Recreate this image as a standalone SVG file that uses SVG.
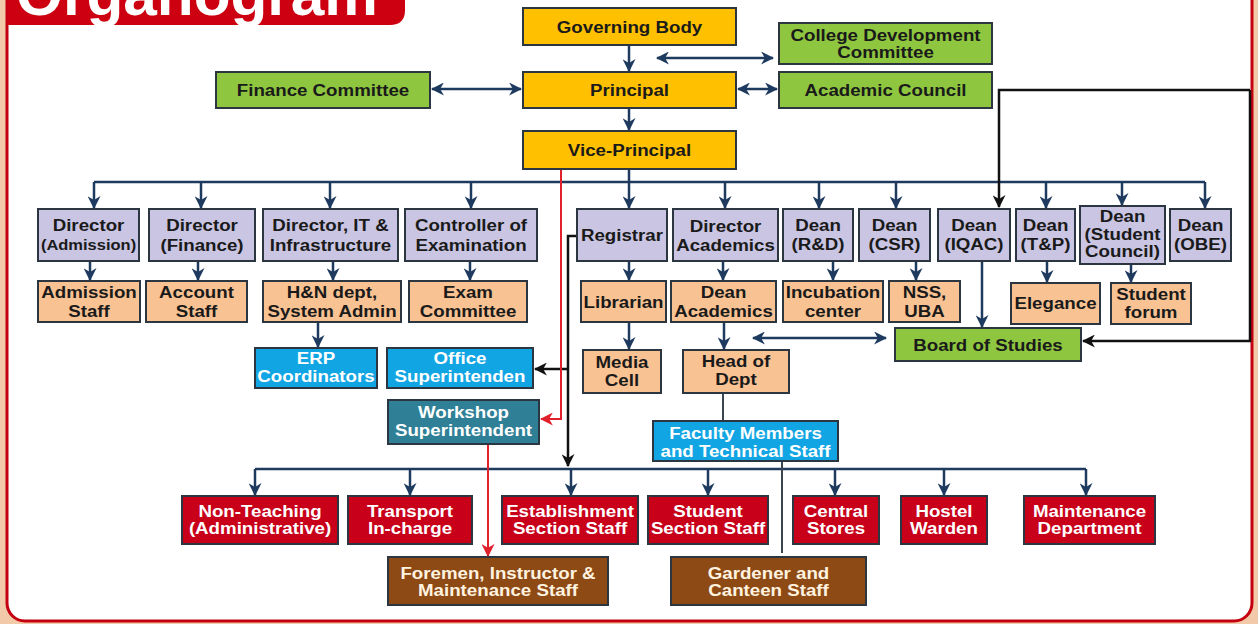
<svg xmlns="http://www.w3.org/2000/svg" width="1258" height="624" viewBox="0 0 1258 624">
<defs>
<style>
.bx{stroke:#2b3640;stroke-width:2}
.gold{fill:#ffc000}.green{fill:#8ec63f}.lav{fill:#c9c5e2}.peach{fill:#f9c293}
.blue{fill:#12a5e3}.teal{fill:#2f7f97}.red{fill:#c8001a}.brown{fill:#8e4a14}
text{font-family:"Liberation Sans",Arial,sans-serif;font-weight:bold;font-size:17px;text-anchor:middle;fill:#1a1a1a}
.w{fill:#ffffff}.c{fill:#fff3e0}.s15{font-size:15px}
.nv{fill:none;stroke:#1f3a5f;stroke-width:2.5}
.bk{fill:none;stroke:#111111;stroke-width:2.5}
.rd{fill:none;stroke:#e0202a;stroke-width:2}
.ln{fill:none;stroke:#3a4550;stroke-width:2}
</style>
<marker id="an" viewBox="0 0 12 12" refX="11" refY="6" markerWidth="13" markerHeight="13" markerUnits="userSpaceOnUse" orient="auto-start-reverse"><path d="M0,0 L12,6 L0,12 L3.5,6 Z" fill="#1f3a5f"/></marker>
<marker id="ab" viewBox="0 0 12 12" refX="11" refY="6" markerWidth="13" markerHeight="13" markerUnits="userSpaceOnUse" orient="auto-start-reverse"><path d="M0,0 L12,6 L0,12 L3.5,6 Z" fill="#111111"/></marker>
<marker id="ar" viewBox="0 0 12 12" refX="11" refY="6" markerWidth="13" markerHeight="13" markerUnits="userSpaceOnUse" orient="auto-start-reverse"><path d="M0,0 L12,6 L0,12 L3.5,6 Z" fill="#e0202a"/></marker>
<clipPath id="tabclip"><path d="M7,0 H405 V10 Q405,25 390,25 H7 Z"/></clipPath>
</defs>

<rect x="0" y="0" width="1258" height="624" fill="#f2c9a9"/>
<rect x="7" y="-30" width="1245" height="651" rx="18" fill="#ffffff" stroke="#c40010" stroke-width="3"/>

<g id="title">
<path d="M7,0 H405 V10 Q405,25 390,25 H7 Z" fill="#cc0010"/>
<g clip-path="url(#tabclip)"><text x="197" y="15" style="font-size:60px" class="w" textLength="362" lengthAdjust="spacingAndGlyphs">Organogram</text></g>
</g>

<g id="connectors">
<path class="nv" d="M629,45 V71" marker-end="url(#an)"/>
<path class="nv" d="M657,58 H773" marker-start="url(#an)" marker-end="url(#an)"/>
<path class="nv" d="M432,89 H521" marker-start="url(#an)" marker-end="url(#an)"/>
<path class="nv" d="M738,89 H777" marker-start="url(#an)" marker-end="url(#an)"/>
<path class="nv" d="M629,108 V130" marker-end="url(#an)"/>
<path class="nv" d="M629,169 V182 M94,182 H1205"/>
<path class="nv" d="M94,182 V208" marker-end="url(#an)"/>
<path class="nv" d="M201,182 V208" marker-end="url(#an)"/>
<path class="nv" d="M330,182 V208" marker-end="url(#an)"/>
<path class="nv" d="M471,182 V208" marker-end="url(#an)"/>
<path class="nv" d="M629,182 V208" marker-end="url(#an)"/>
<path class="nv" d="M725,182 V208" marker-end="url(#an)"/>
<path class="nv" d="M819,182 V208" marker-end="url(#an)"/>
<path class="nv" d="M896,182 V208" marker-end="url(#an)"/>
<path class="nv" d="M1046,182 V208" marker-end="url(#an)"/>
<path class="nv" d="M1122,182 V205" marker-end="url(#an)"/>
<path class="nv" d="M1205,182 V208" marker-end="url(#an)"/>
<path class="nv" d="M90,261 V280" marker-end="url(#an)"/>
<path class="nv" d="M198,261 V280" marker-end="url(#an)"/>
<path class="nv" d="M333,261 V280" marker-end="url(#an)"/>
<path class="nv" d="M470,261 V280" marker-end="url(#an)"/>
<path class="nv" d="M629,261 V280" marker-end="url(#an)"/>
<path class="nv" d="M723,261 V280" marker-end="url(#an)"/>
<path class="nv" d="M833,261 V280" marker-end="url(#an)"/>
<path class="nv" d="M916,261 V280" marker-end="url(#an)"/>
<path class="nv" d="M1047,261 V282" marker-end="url(#an)"/>
<path class="nv" d="M1131,264 V282" marker-end="url(#an)"/>
<path class="nv" d="M318,322 V347" marker-end="url(#an)"/>
<path class="nv" d="M629,322 V349" marker-end="url(#an)"/>
<path class="nv" d="M724,322 V349" marker-end="url(#an)"/>
<path class="nv" d="M753,338 H886" marker-start="url(#an)" marker-end="url(#an)"/>
<path class="nv" d="M982,261 V327" marker-end="url(#an)"/>
<path class="bk" d="M1250,90 H999 V207" marker-end="url(#ab)"/>
<path class="bk" d="M1250,90 V341 H1083" marker-end="url(#ab)"/>
<path class="bk" d="M577,236 H568 V466" marker-end="url(#ab)"/>
<path class="bk" d="M568,369 H535" marker-end="url(#ab)"/>
<path class="rd" d="M561,169 V419 H541" marker-end="url(#ar)"/>
<path class="ln" d="M723,393 V421"/>
<path class="nv" d="M255,469 H1086"/>
<path class="nv" d="M255,469 V495" marker-end="url(#an)"/>
<path class="nv" d="M410,469 V495" marker-end="url(#an)"/>
<path class="nv" d="M571,469 V495" marker-end="url(#an)"/>
<path class="nv" d="M708,469 V495" marker-end="url(#an)"/>
<path class="nv" d="M835,469 V495" marker-end="url(#an)"/>
<path class="nv" d="M944,469 V495" marker-end="url(#an)"/>
<path class="nv" d="M1086,469 V495" marker-end="url(#an)"/>
<path class="ln" d="M782,461 V553"/>
<path class="rd" d="M488,444 V556" marker-end="url(#ar)"/>
</g>

<g id="governing-body"><rect class="bx gold" x="523" y="8" width="213" height="37"/><g transform="matrix(1.1 0 0 1 629.5 0)"><text x="0" y="33">Governing Body</text></g></g>
<g id="cdc"><rect class="bx green" x="779" y="23" width="213" height="41"/><g transform="matrix(1.1 0 0 1 885.5 0)"><text x="0" y="41">College Development</text><text x="0" y="58">Committee</text></g></g>
<g id="principal"><rect class="bx gold" x="523" y="72" width="213" height="36"/><g transform="matrix(1.1 0 0 1 629.5 0)"><text x="0" y="96">Principal</text></g></g>
<g id="finance-committee"><rect class="bx green" x="216" y="72" width="214" height="36"/><g transform="matrix(1.1 0 0 1 323 0)"><text x="0" y="96">Finance Committee</text></g></g>
<g id="academic-council"><rect class="bx green" x="779" y="72" width="213" height="36"/><g transform="matrix(1.1 0 0 1 885.5 0)"><text x="0" y="96">Academic Council</text></g></g>
<g id="vice-principal"><rect class="bx gold" x="523" y="131" width="213" height="38"/><g transform="matrix(1.1 0 0 1 629.5 0)"><text x="0" y="156">Vice-Principal</text></g></g>

<g id="dir-admission"><rect class="bx lav" x="38" y="209" width="101" height="52"/><g transform="matrix(1.1 0 0 1 88.5 0)"><text x="0" y="231">Director</text><text x="0" y="250" class="s15">(Admission)</text></g></g>
<g id="dir-finance"><rect class="bx lav" x="149" y="209" width="106" height="52"/><g transform="matrix(1.1 0 0 1 202 0)"><text x="0" y="231">Director</text><text x="0" y="251">(Finance)</text></g></g>
<g id="dir-it"><rect class="bx lav" x="263" y="209" width="135" height="52"/><g transform="matrix(1.1 0 0 1 330.5 0)"><text x="0" y="231">Director, IT &amp;</text><text x="0" y="251">Infrastructure</text></g></g>
<g id="controller"><rect class="bx lav" x="405" y="209" width="132" height="52"/><g transform="matrix(1.1 0 0 1 471 0)"><text x="0" y="231">Controller of</text><text x="0" y="251">Examination</text></g></g>
<g id="registrar"><rect class="bx lav" x="577" y="209" width="90" height="52"/><g transform="matrix(1.1 0 0 1 622 0)"><text x="0" y="241">Registrar</text></g></g>
<g id="dir-academics"><rect class="bx lav" x="673" y="209" width="105" height="52"/><g transform="matrix(1.1 0 0 1 725.5 0)"><text x="0" y="232">Director</text><text x="0" y="251">Academics</text></g></g>
<g id="dean-rd"><rect class="bx lav" x="783" y="209" width="70" height="52"/><g transform="matrix(1.1 0 0 1 818 0)"><text x="0" y="231">Dean</text><text x="0" y="250">(R&amp;D)</text></g></g>
<g id="dean-csr"><rect class="bx lav" x="859" y="209" width="71" height="52"/><g transform="matrix(1.1 0 0 1 894.5 0)"><text x="0" y="231">Dean</text><text x="0" y="250">(CSR)</text></g></g>
<g id="dean-iqac"><rect class="bx lav" x="938" y="209" width="72" height="52"/><g transform="matrix(1.1 0 0 1 974 0)"><text x="0" y="231">Dean</text><text x="0" y="250">(IQAC)</text></g></g>
<g id="dean-tp"><rect class="bx lav" x="1016" y="209" width="59" height="52"/><g transform="matrix(1.1 0 0 1 1045.5 0)"><text x="0" y="231">Dean</text><text x="0" y="250">(T&amp;P)</text></g></g>
<g id="dean-sc"><rect class="bx lav" x="1080" y="206" width="85" height="58"/><g transform="matrix(1.1 0 0 1 1122.5 0)"><text x="0" y="222">Dean</text><text x="0" y="240">(Student</text><text x="0" y="257">Council)</text></g></g>
<g id="dean-obe"><rect class="bx lav" x="1170" y="209" width="61" height="52"/><g transform="matrix(1.1 0 0 1 1200.5 0)"><text x="0" y="231">Dean</text><text x="0" y="250">(OBE)</text></g></g>

<g id="admission-staff"><rect class="bx peach" x="38" y="281" width="102" height="41"/><g transform="matrix(1.1 0 0 1 89 0)"><text x="0" y="298">Admission</text><text x="0" y="317">Staff</text></g></g>
<g id="account-staff"><rect class="bx peach" x="146" y="281" width="101" height="41"/><g transform="matrix(1.1 0 0 1 196.5 0)"><text x="0" y="298">Account</text><text x="0" y="317">Staff</text></g></g>
<g id="hn-dept"><rect class="bx peach" x="263" y="281" width="138" height="41"/><g transform="matrix(1.1 0 0 1 332 0)"><text x="0" y="298">H&amp;N dept,</text><text x="0" y="317">System Admin</text></g></g>
<g id="exam-committee"><rect class="bx peach" x="409" y="281" width="118" height="41"/><g transform="matrix(1.1 0 0 1 468 0)"><text x="0" y="298">Exam</text><text x="0" y="317">Committee</text></g></g>
<g id="librarian"><rect class="bx peach" x="581" y="281" width="85" height="41"/><g transform="matrix(1.1 0 0 1 623.5 0)"><text x="0" y="308">Librarian</text></g></g>
<g id="dean-academics"><rect class="bx peach" x="671" y="281" width="105" height="41"/><g transform="matrix(1.1 0 0 1 723.5 0)"><text x="0" y="298">Dean</text><text x="0" y="317">Academics</text></g></g>
<g id="incubation"><rect class="bx peach" x="783" y="281" width="100" height="41"/><g transform="matrix(1.1 0 0 1 833 0)"><text x="0" y="298">Incubation</text><text x="0" y="317">center</text></g></g>
<g id="nss"><rect class="bx peach" x="889" y="281" width="71" height="41"/><g transform="matrix(1.1 0 0 1 924.5 0)"><text x="0" y="298">NSS,</text><text x="0" y="317">UBA</text></g></g>
<g id="elegance"><rect class="bx peach" x="1011" y="283" width="89" height="41"/><g transform="matrix(1.1 0 0 1 1055.5 0)"><text x="0" y="309">Elegance</text></g></g>
<g id="student-forum"><rect class="bx peach" x="1111" y="283" width="80" height="41"/><g transform="matrix(1.1 0 0 1 1151 0)"><text x="0" y="300">Student</text><text x="0" y="318">forum</text></g></g>

<g id="media-cell"><rect class="bx peach" x="583" y="350" width="78" height="43"/><g transform="matrix(1.1 0 0 1 622 0)"><text x="0" y="368">Media</text><text x="0" y="386">Cell</text></g></g>
<g id="head-of-dept"><rect class="bx peach" x="683" y="350" width="106" height="43"/><g transform="matrix(1.1 0 0 1 736 0)"><text x="0" y="367">Head of</text><text x="0" y="385">Dept</text></g></g>
<g id="board-of-studies"><rect class="bx green" x="895" y="328" width="186" height="33"/><g transform="matrix(1.1 0 0 1 988 0)"><text x="0" y="351">Board of Studies</text></g></g>
<g id="erp"><rect class="bx blue" x="255" y="348" width="122" height="40"/><g transform="matrix(1.1 0 0 1 316 0)"><text x="0" y="364" class="w">ERP</text><text x="0" y="382" class="w">Coordinators</text></g></g>
<g id="office-supt"><rect class="bx blue" x="387" y="348" width="146" height="40"/><g transform="matrix(1.1 0 0 1 460 0)"><text x="0" y="364" class="w">Office</text><text x="0" y="382" class="w">Superintenden</text></g></g>
<g id="workshop-supt"><rect class="bx teal" x="388" y="400" width="151" height="44"/><g transform="matrix(1.1 0 0 1 463.5 0)"><text x="0" y="418" class="w">Workshop</text><text x="0" y="436" class="w">Superintendent</text></g></g>
<g id="faculty"><rect class="bx blue" x="653" y="421" width="185" height="40"/><g transform="matrix(1.1 0 0 1 745.5 0)"><text x="0" y="439" class="w">Faculty Members</text><text x="0" y="457" class="w">and Technical Staff</text></g></g>

<g id="non-teaching"><rect class="bx red" x="182" y="496" width="156" height="48"/><g transform="matrix(1.1 0 0 1 260 0)"><text x="0" y="517" class="w">Non-Teaching</text><text x="0" y="534" class="w">(Administrative)</text></g></g>
<g id="transport"><rect class="bx red" x="348" y="496" width="124" height="48"/><g transform="matrix(1.1 0 0 1 410 0)"><text x="0" y="517" class="w">Transport</text><text x="0" y="534" class="w">In-charge</text></g></g>
<g id="establishment"><rect class="bx red" x="502" y="496" width="136" height="48"/><g transform="matrix(1.1 0 0 1 570 0)"><text x="0" y="517" class="w">Establishment</text><text x="0" y="534" class="w">Section Staff</text></g></g>
<g id="student-section"><rect class="bx red" x="648" y="496" width="120" height="48"/><g transform="matrix(1.1 0 0 1 708 0)"><text x="0" y="517" class="w">Student</text><text x="0" y="534" class="w">Section Staff</text></g></g>
<g id="central-stores"><rect class="bx red" x="793" y="496" width="86" height="48"/><g transform="matrix(1.1 0 0 1 836 0)"><text x="0" y="517" class="w">Central</text><text x="0" y="534" class="w">Stores</text></g></g>
<g id="hostel-warden"><rect class="bx red" x="901" y="496" width="86" height="48"/><g transform="matrix(1.1 0 0 1 944 0)"><text x="0" y="517" class="w">Hostel</text><text x="0" y="534" class="w">Warden</text></g></g>
<g id="maintenance"><rect class="bx red" x="1024" y="496" width="131" height="48"/><g transform="matrix(1.1 0 0 1 1089.5 0)"><text x="0" y="517" class="w">Maintenance</text><text x="0" y="534" class="w">Department</text></g></g>

<g id="foremen"><rect class="bx brown" x="388" y="557" width="220" height="48"/><g transform="matrix(1.1 0 0 1 498 0)"><text x="0" y="579" class="c">Foremen, Instructor &amp;</text><text x="0" y="596" class="c">Maintenance Staff</text></g></g>
<g id="gardener"><rect class="bx brown" x="671" y="557" width="195" height="48"/><g transform="matrix(1.1 0 0 1 768.5 0)"><text x="0" y="579" class="c">Gardener and</text><text x="0" y="596" class="c">Canteen Staff</text></g></g>
</svg>
